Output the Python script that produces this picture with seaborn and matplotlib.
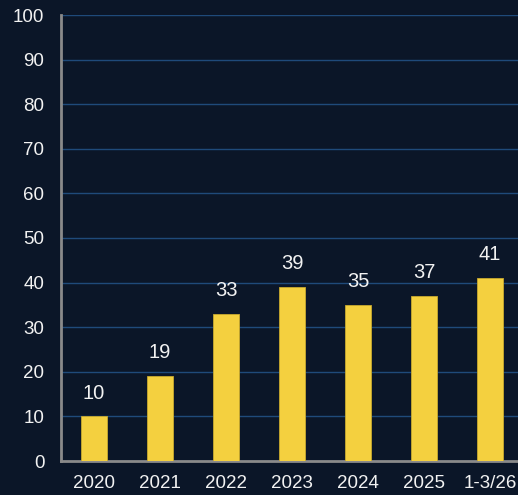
import pandas as pd
import numpy as np
import matplotlib.pyplot as plt
import seaborn as sns

periods = ['2020', '2021', '2022', '2023', '2024', '2025', '1-3/26']
values = [10, 19, 33, 39, 35, 37, 41]

bg = '#0b1628'
bar_color = '#f4d03f'
grid_color = '#1f4a7a'
spine_color = '#8a8a8a'
text_color = '#f2f2f2'

sns.set_style('dark')
plt.rcParams['font.family'] = ['Liberation Sans', 'DejaVu Sans']

df = pd.DataFrame({'period': periods, 'value': values})

fig = plt.figure(figsize=(5.18, 4.95), dpi=100, facecolor=bg)
ax = fig.add_axes([61 / 518, 34 / 495, 462 / 518, 446 / 495])
ax.set_facecolor(bg)

sns.barplot(data=df, x='period', y='value', color=bar_color, width=0.40,
            edgecolor='#c9a92e', linewidth=0.6, saturation=1, ax=ax, zorder=3)

ax.set_xlim(-0.5, len(periods) - 0.5)
ax.set_ylim(0, 100)
ax.set_yticks(range(0, 101, 10))
ax.yaxis.grid(True, color=grid_color, linewidth=1)
ax.xaxis.grid(False)
ax.set_axisbelow(True)

# category boundary ticks on x
ax.set_xticks(np.arange(-0.5, len(periods) - 0.4, 1), minor=True)
ax.tick_params(axis='x', which='major', length=0, pad=10, labelsize=13.5, labelcolor=text_color)
ax.tick_params(axis='x', which='minor', length=5, width=2, color=spine_color)
ax.tick_params(axis='y', length=5, width=2, color=spine_color, labelsize=13.5,
               labelcolor=text_color, pad=7)

ax.set_xlabel('')
ax.set_ylabel('')

for side in ['top', 'right']:
    ax.spines[side].set_visible(False)
for side in ['left', 'bottom']:
    ax.spines[side].set_visible(True)
    ax.spines[side].set_color(spine_color)
    ax.spines[side].set_linewidth(2)

for container in ax.containers:
    ax.bar_label(container, padding=10, fontsize=14.5, color=text_color)

fig.savefig('out.png', dpi=100, facecolor=bg)
